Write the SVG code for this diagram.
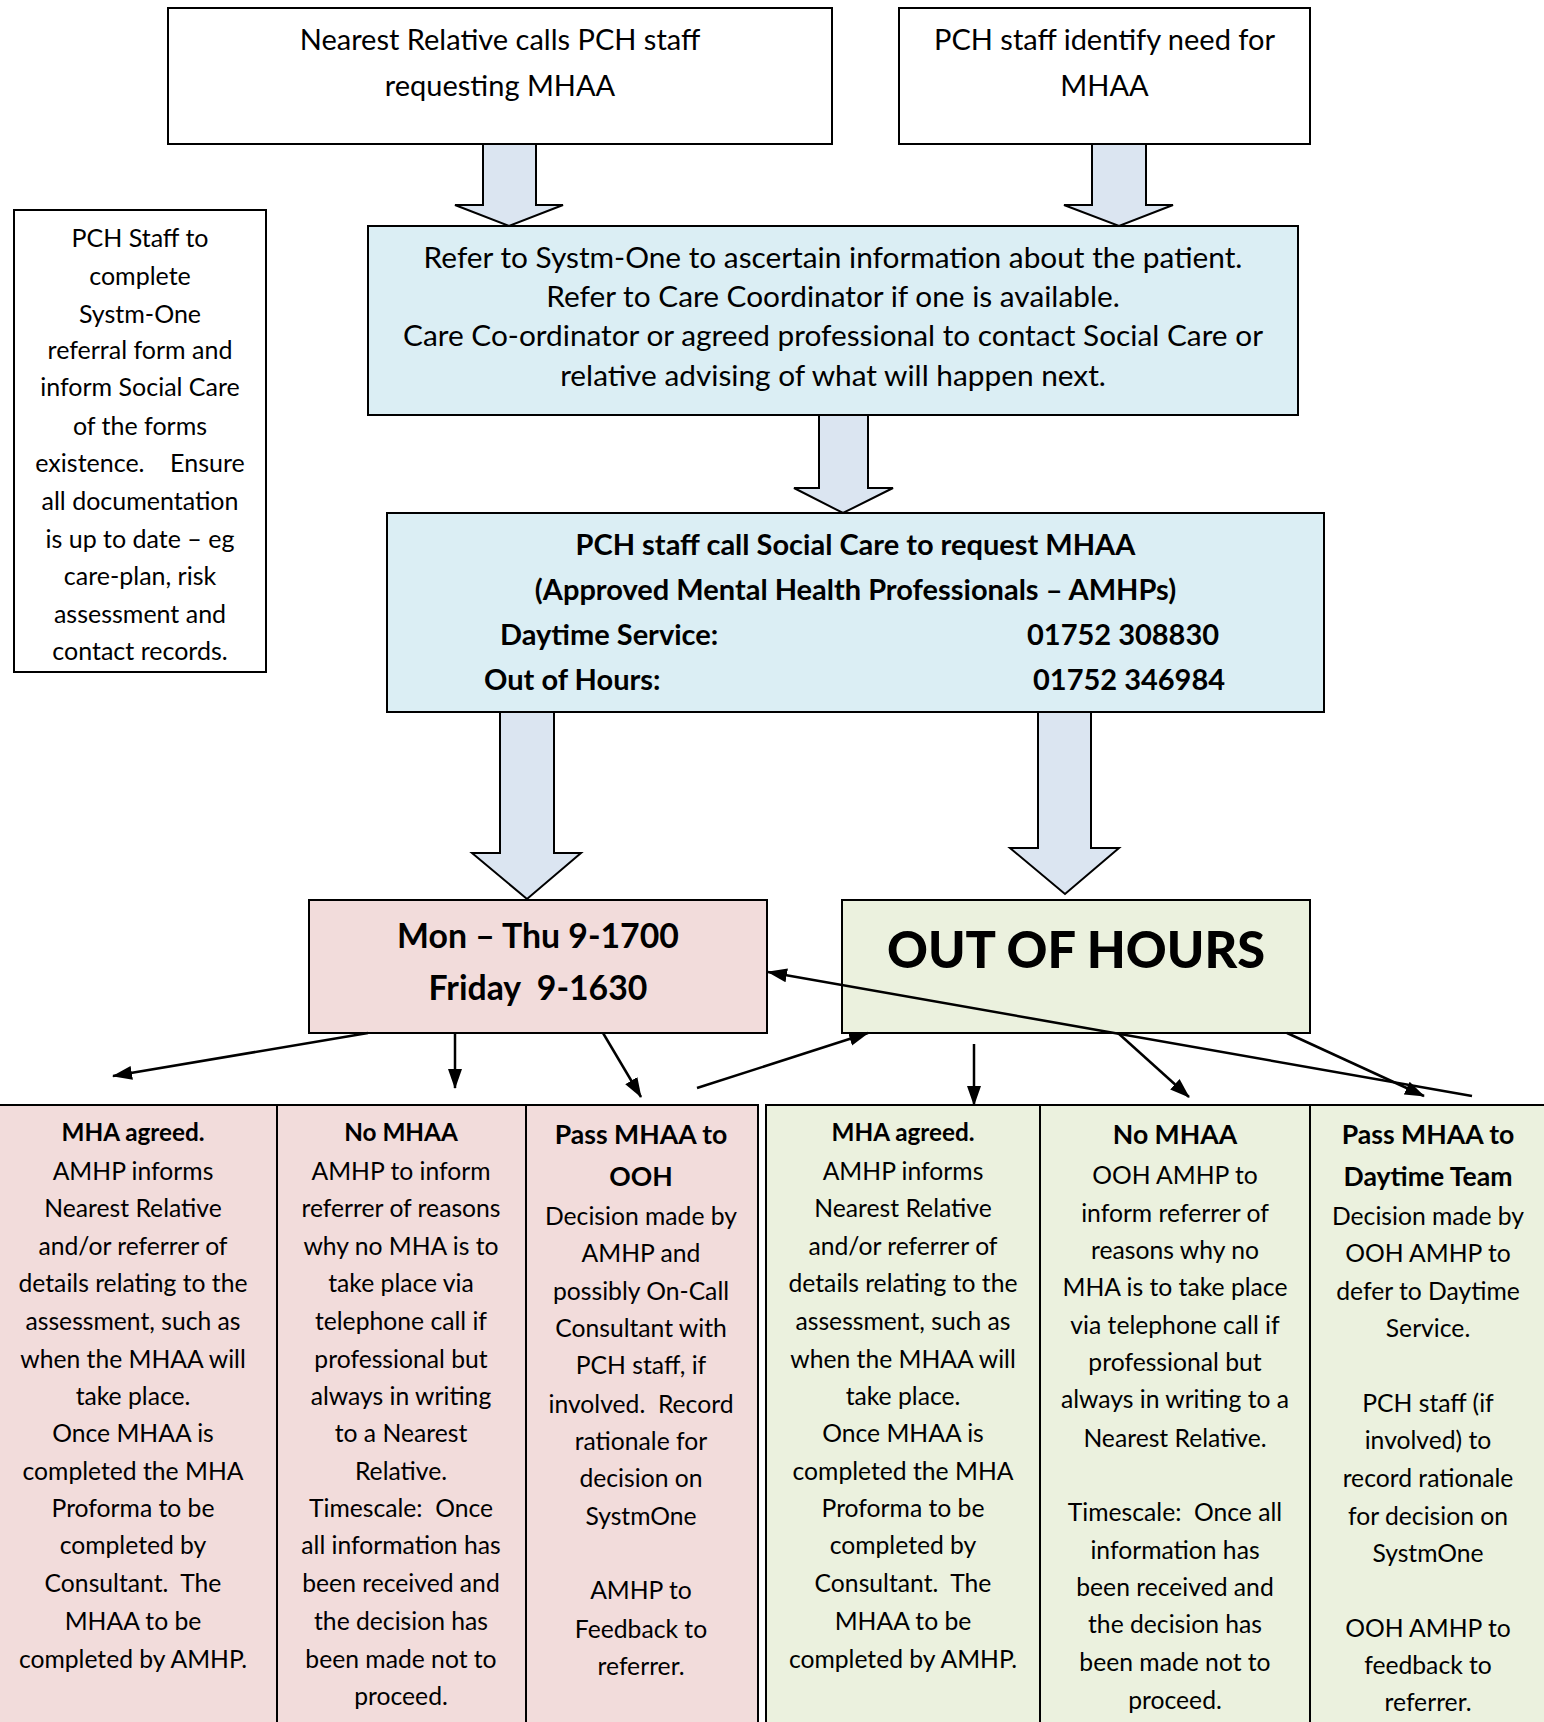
<svg xmlns="http://www.w3.org/2000/svg" width="1544" height="1722" viewBox="0 0 1544 1722">
<defs>
<style>
.box{stroke:#000;stroke-width:2;}
.white{fill:#fff;}
.blue{fill:#DBEEF4;}
.pink{fill:#F2DCDB;}
.green{fill:#EBF1DE;}
.blk{fill:#DBE5F1;stroke:#000;stroke-width:2;stroke-linejoin:miter;}
.div{stroke:#000;stroke-width:2;fill:none;}
.conn{stroke:#000;stroke-width:2.5;fill:none;}
text{font-family:Lato,"Open Sans","Liberation Sans",sans-serif;fill:#000;text-anchor:middle;dominant-baseline:central;}
.t1{font-size:29px;}
.t3{font-size:29.8px;}
.tn{font-size:25px;}
.t4{font-size:29px;font-weight:bold;}
.t4l{font-size:29px;font-weight:bold;text-anchor:start;}
.tm{font-size:33.8px;font-weight:bold;}
.too{font-size:50.5px;font-weight:900;}
.tc{font-size:24.7px;}
.hc{font-size:24.3px;font-weight:bold;}
.hc2{font-size:26.6px;font-weight:bold;}
</style>
<marker id="ah" markerUnits="userSpaceOnUse" markerWidth="20" markerHeight="16" viewBox="0 0 20 16" refX="19" refY="8" orient="auto">
<path d="M0,1 L20,8 L0,15 Z" fill="#000"/>
</marker>
</defs>

<g id="node-nearest-relative">
<rect class="box white" x="168" y="8" width="664" height="136"/>
<text class="t1" x="500" y="38">Nearest Relative calls PCH staff</text>
<text class="t1" x="500" y="84">requesting MHAA</text>
</g>

<g id="node-pch-identify">
<rect class="box white" x="899" y="8" width="411" height="136"/>
<text class="t1" x="1104.5" y="38">PCH staff identify need for</text>
<text class="t1" x="1104.5" y="84">MHAA</text>
</g>

<g id="node-note">
<rect class="box white" x="14" y="210" width="252" height="462"/>
<text class="tn" x="140" y="236.5">PCH Staff to</text>
<text class="tn" x="140" y="275">complete</text>
<text class="tn" x="140" y="312.5">Systm-One</text>
<text class="tn" x="140" y="348.5">referral form and</text>
<text class="tn" x="140" y="386">inform Social Care</text>
<text class="tn" x="140" y="424.5">of the forms</text>
<text class="tn" x="140" y="462" xml:space="preserve">existence.    Ensure</text>
<text class="tn" x="140" y="499.5">all documentation</text>
<text class="tn" x="140" y="537.5">is up to date – eg</text>
<text class="tn" x="140" y="575">care-plan, risk</text>
<text class="tn" x="140" y="612.5">assessment and</text>
<text class="tn" x="140" y="649.5">contact records.</text>
</g>

<g id="node-refer">
<rect class="box blue" x="368" y="226" width="930" height="189"/>
<text class="t3" x="833" y="256.5">Refer to Systm-One to ascertain information about the patient.</text>
<text class="t3" x="833" y="295">Refer to Care Coordinator if one is available.</text>
<text class="t3" x="833" y="334.5">Care Co-ordinator or agreed professional to contact Social Care or</text>
<text class="t3" x="833" y="374">relative advising of what will happen next.</text>
</g>

<g id="node-call-social-care">
<rect class="box blue" x="387" y="513" width="937" height="199"/>
<text class="t4" x="855.5" y="543">PCH staff call Social Care to request MHAA</text>
<text class="t4" x="855.5" y="588">(Approved Mental Health Professionals – AMHPs)</text>
<text class="t4l" x="500" y="633">Daytime Service:</text>
<text class="t4l" x="1027" y="633">01752 308830</text>
<text class="t4l" x="484" y="678">Out of Hours:</text>
<text class="t4l" x="1033" y="678">01752 346984</text>
</g>

<g id="node-daytime">
<rect class="box pink" x="309" y="900" width="458" height="133"/>
<text class="tm" x="538" y="935">Mon – Thu 9-1700</text>
<text class="tm" x="538" y="986.5" xml:space="preserve">Friday  9-1630</text>
</g>

<g id="node-ooh">
<rect class="box green" x="842" y="900" width="468" height="133"/>
<text class="too" x="1076" y="948.5">OUT OF HOURS</text>
</g>

<g id="node-day-table">
<rect class="box pink" x="-11" y="1105" width="769" height="640"/>
<line class="div" x1="277" y1="1105" x2="277" y2="1745"/>
<line class="div" x1="526" y1="1105" x2="526" y2="1745"/>
</g>

<g id="node-day-mha-agreed">
<text class="hc" x="133" y="1131.5">MHA agreed.</text>
<text class="tc" x="133" y="1170">AMHP informs</text>
<text class="tc" x="133" y="1207.5">Nearest Relative</text>
<text class="tc" x="133" y="1245">and/or referrer of</text>
<text class="tc" x="133" y="1282.5">details relating to the</text>
<text class="tc" x="133" y="1320.5">assessment, such as</text>
<text class="tc" x="133" y="1358">when the MHAA will</text>
<text class="tc" x="133" y="1395.5">take place.</text>
<text class="tc" x="133" y="1432.5">Once MHAA is</text>
<text class="tc" x="133" y="1470">completed the MHA</text>
<text class="tc" x="133" y="1507.5">Proforma to be</text>
<text class="tc" x="133" y="1544.5">completed by</text>
<text class="tc" x="133" y="1582" xml:space="preserve">Consultant.  The</text>
<text class="tc" x="133" y="1620.5">MHAA to be</text>
<text class="tc" x="133" y="1658">completed by AMHP.</text>
</g>

<g id="node-day-no-mhaa">
<text class="hc" x="401" y="1131.5">No MHAA</text>
<text class="tc" x="401" y="1170">AMHP to inform</text>
<text class="tc" x="401" y="1207.5">referrer of reasons</text>
<text class="tc" x="401" y="1245">why no MHA is to</text>
<text class="tc" x="401" y="1282.5">take place via</text>
<text class="tc" x="401" y="1320.5">telephone call if</text>
<text class="tc" x="401" y="1358">professional but</text>
<text class="tc" x="401" y="1395.5">always in writing</text>
<text class="tc" x="401" y="1432.5">to a Nearest</text>
<text class="tc" x="401" y="1470">Relative.</text>
<text class="tc" x="401" y="1507.5" xml:space="preserve">Timescale:  Once</text>
<text class="tc" x="401" y="1544.5">all information has</text>
<text class="tc" x="401" y="1582">been received and</text>
<text class="tc" x="401" y="1620.5">the decision has</text>
<text class="tc" x="401" y="1658">been made not to</text>
<text class="tc" x="401" y="1695.5">proceed.</text>
</g>

<g id="node-day-pass-ooh">
<text class="hc2" x="641" y="1134">Pass MHAA to</text>
<text class="hc2" x="641" y="1175.5">OOH</text>
<text class="tc" x="641" y="1215">Decision made by</text>
<text class="tc" x="641" y="1252.5">AMHP and</text>
<text class="tc" x="641" y="1290">possibly On-Call</text>
<text class="tc" x="641" y="1327">Consultant with</text>
<text class="tc" x="641" y="1364.5">PCH staff, if</text>
<text class="tc" x="641" y="1403" xml:space="preserve">involved.  Record</text>
<text class="tc" x="641" y="1440.5">rationale for</text>
<text class="tc" x="641" y="1477.5">decision on</text>
<text class="tc" x="641" y="1515">SystmOne</text>
<text class="tc" x="641" y="1589.5">AMHP to</text>
<text class="tc" x="641" y="1628">Feedback to</text>
<text class="tc" x="641" y="1665.5">referrer.</text>
</g>

<g id="node-ooh-table">
<rect class="box green" x="766" y="1105" width="790" height="640"/>
<line class="div" x1="1040" y1="1105" x2="1040" y2="1745"/>
<line class="div" x1="1310" y1="1105" x2="1310" y2="1745"/>
</g>

<g id="node-ooh-mha-agreed">
<text class="hc" x="903" y="1131.5">MHA agreed.</text>
<text class="tc" x="903" y="1170">AMHP informs</text>
<text class="tc" x="903" y="1207.5">Nearest Relative</text>
<text class="tc" x="903" y="1245">and/or referrer of</text>
<text class="tc" x="903" y="1282.5">details relating to the</text>
<text class="tc" x="903" y="1320.5">assessment, such as</text>
<text class="tc" x="903" y="1358">when the MHAA will</text>
<text class="tc" x="903" y="1395.5">take place.</text>
<text class="tc" x="903" y="1432.5">Once MHAA is</text>
<text class="tc" x="903" y="1470">completed the MHA</text>
<text class="tc" x="903" y="1507.5">Proforma to be</text>
<text class="tc" x="903" y="1544.5">completed by</text>
<text class="tc" x="903" y="1582" xml:space="preserve">Consultant.  The</text>
<text class="tc" x="903" y="1620.5">MHAA to be</text>
<text class="tc" x="903" y="1658">completed by AMHP.</text>
</g>

<g id="node-ooh-no-mhaa">
<text class="hc2" x="1175" y="1134">No MHAA</text>
<text class="tc" x="1175" y="1174.5">OOH AMHP to</text>
<text class="tc" x="1175" y="1212">inform referrer of</text>
<text class="tc" x="1175" y="1249.5">reasons why no</text>
<text class="tc" x="1175" y="1286.5">MHA is to take place</text>
<text class="tc" x="1175" y="1324">via telephone call if</text>
<text class="tc" x="1175" y="1361.5">professional but</text>
<text class="tc" x="1175" y="1398.5">always in writing to a</text>
<text class="tc" x="1175" y="1437">Nearest Relative.</text>
<text class="tc" x="1175" y="1511.5" xml:space="preserve">Timescale:  Once all</text>
<text class="tc" x="1175" y="1549">information has</text>
<text class="tc" x="1175" y="1586.5">been received and</text>
<text class="tc" x="1175" y="1623.5">the decision has</text>
<text class="tc" x="1175" y="1661">been made not to</text>
<text class="tc" x="1175" y="1699.5">proceed.</text>
</g>

<g id="node-ooh-pass-daytime">
<text class="hc2" x="1428" y="1134">Pass MHAA to</text>
<text class="hc2" x="1428" y="1175.5">Daytime Team</text>
<text class="tc" x="1428" y="1215">Decision made by</text>
<text class="tc" x="1428" y="1252.5">OOH AMHP to</text>
<text class="tc" x="1428" y="1290">defer to Daytime</text>
<text class="tc" x="1428" y="1327">Service.</text>
<text class="tc" x="1428" y="1402">PCH staff (if</text>
<text class="tc" x="1428" y="1439.5">involved) to</text>
<text class="tc" x="1428" y="1477.5">record rationale</text>
<text class="tc" x="1428" y="1515">for decision on</text>
<text class="tc" x="1428" y="1552.5">SystmOne</text>
<text class="tc" x="1428" y="1627">OOH AMHP to</text>
<text class="tc" x="1428" y="1664.5">feedback to</text>
<text class="tc" x="1428" y="1701.5">referrer.</text>
</g>

<g id="connectors">
<polygon class="blk" points="483,144 536,144 536,205 563,205 509,226 455,205 483,205"/>
<polygon class="blk" points="1092,144 1146,144 1146,205 1173,205 1119,226 1064,205 1092,205"/>
<polygon class="blk" points="819,415 868,415 868,488 893,488 843,513 794,488 819,488"/>
<polygon class="blk" points="500,712 554,712 554,853 581,853 527,899 472,853 500,853"/>
<polygon class="blk" points="1038,712 1091,712 1091,848 1119,848 1065,894 1010,848 1038,848"/>
<line class="conn" x1="368" y1="1033" x2="113" y2="1076" marker-end="url(#ah)"/>
<line class="conn" x1="455" y1="1033" x2="455" y2="1088" marker-end="url(#ah)"/>
<line class="conn" x1="603" y1="1033" x2="641" y2="1097" marker-end="url(#ah)"/>
<line class="conn" x1="697" y1="1088" x2="868" y2="1033" marker-end="url(#ah)"/>
<line class="conn" x1="974" y1="1044" x2="974" y2="1105" marker-end="url(#ah)"/>
<line class="conn" x1="1118" y1="1033" x2="1189" y2="1097" marker-end="url(#ah)"/>
<line class="conn" x1="1287" y1="1033" x2="1424" y2="1096" marker-end="url(#ah)"/>
<line class="conn" x1="1472" y1="1096" x2="768" y2="972" marker-end="url(#ah)"/>
</g>
</svg>
